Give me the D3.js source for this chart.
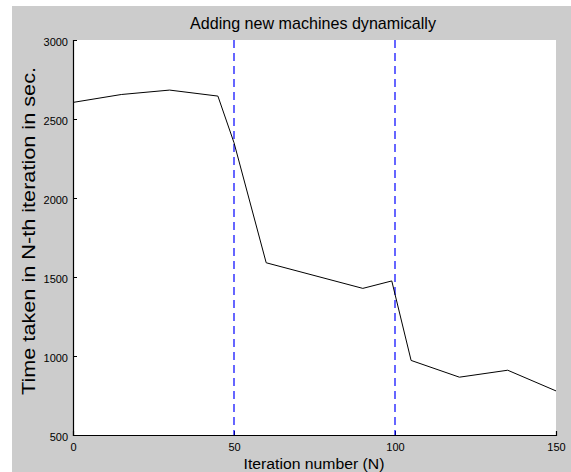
<!DOCTYPE html>
<html>
<head>
<meta charset="utf-8">
<script src="https://cdn.jsdelivr.net/npm/d3@7"></script>
<style>
  html, body { margin: 0; padding: 0; background: #ffffff; }
  svg { display: block; }
  text { font-family: "Liberation Sans", Arial, Helvetica, sans-serif; fill: #000; }
</style>
</head>
<body>
<svg id="chart" width="571" height="472"></svg>
<script>
// Iteration number and time taken for that iteration (seconds)
const iterations = [0, 15, 30, 45, 50, 60, 90, 99, 105, 120, 135, 150];
const timeTaken  = [2605, 2655, 2683, 2645, 2350, 1590, 1428, 1475, 972, 866, 910, 779];

// Iterations at which new machines were added
const machineAdded = [50, 100];

const xTicks = [0, 50, 100, 150];
const yTicks = [500, 1000, 1500, 2000, 2500, 3000];

const titleText = "Adding new machines dynamically";
const xLabelText = "Iteration number (N)";
const yLabelText = "Time taken in N-th iteration in sec.";

const svg = d3.select("#chart");
const W = 571, H = 472;
const plot = { left: 73, right: 556, top: 40, bottom: 435 };

// figure background
svg.append("rect")
  .attr("x", 12).attr("y", 6)
  .attr("width", W - 12).attr("height", H - 6)
  .attr("fill", "#cccccc");

// axes area
svg.append("rect")
  .attr("x", plot.left).attr("y", plot.top)
  .attr("width", plot.right - plot.left).attr("height", plot.bottom - plot.top)
  .attr("fill", "#ffffff");

const x = d3.scaleLinear().domain([0, 150]).range([plot.left, plot.right]);
const y = d3.scaleLinear().domain([500, 3000]).range([plot.bottom, plot.top]);

// x axis with inward ticks
const xAxis = svg.append("g")
  .attr("transform", `translate(0,${plot.bottom})`)
  .call(d3.axisBottom(x).tickValues(xTicks).tickSize(-4).tickPadding(8).tickFormat(d3.format("d")));
xAxis.select(".domain").attr("stroke", "#000").attr("stroke-width", 1.2);
xAxis.selectAll(".tick line").attr("stroke", "#000");
xAxis.selectAll(".tick text")
  .attr("font-size", "11px")
  .attr("font-family", "Liberation Sans, Arial, sans-serif");

// y axis with inward ticks
const yAxis = svg.append("g")
  .attr("transform", `translate(${plot.left},0)`)
  .call(d3.axisLeft(y).tickValues(yTicks).tickSize(-4).tickPadding(5).tickFormat(d3.format("d")));
yAxis.select(".domain").attr("stroke", "#000").attr("stroke-width", 1.2);
yAxis.selectAll(".tick line").attr("stroke", "#000");
yAxis.selectAll(".tick text")
  .attr("font-size", "11px")
  .attr("dy", "0.5em")
  .attr("font-family", "Liberation Sans, Arial, sans-serif");

// markers for machine additions
svg.selectAll("line.added")
  .data(machineAdded)
  .enter().append("line")
  .attr("class", "added")
  .attr("x1", d => x(d)).attr("x2", d => x(d))
  .attr("y1", plot.top).attr("y2", plot.bottom)
  .attr("stroke", "#0000ff")
  .attr("stroke-width", 1.2)
  .attr("stroke-dasharray", "8,5");

// time series
const pts = iterations.map((it, i) => [it, timeTaken[i]]);
svg.append("path")
  .datum(pts)
  .attr("fill", "none")
  .attr("stroke", "#000")
  .attr("stroke-width", 1)
  .attr("d", d3.line().x(d => x(d[0])).y(d => y(d[1])));

// title and axis labels
svg.append("text")
  .attr("x", 313).attr("y", 28.5)
  .attr("text-anchor", "middle")
  .attr("font-size", "17px")
  .attr("textLength", 246)
  .attr("lengthAdjust", "spacingAndGlyphs")
  .text(titleText);

svg.append("text")
  .attr("x", 314).attr("y", 468.5)
  .attr("text-anchor", "middle")
  .attr("font-size", "15.5px")
  .attr("textLength", 141)
  .attr("lengthAdjust", "spacingAndGlyphs")
  .text(xLabelText);

svg.append("text")
  .attr("transform", `translate(35,231) rotate(-90)`)
  .attr("text-anchor", "middle")
  .attr("font-size", "17.5px")
  .attr("textLength", 328)
  .attr("lengthAdjust", "spacingAndGlyphs")
  .text(yLabelText);
</script>
</body>
</html>
